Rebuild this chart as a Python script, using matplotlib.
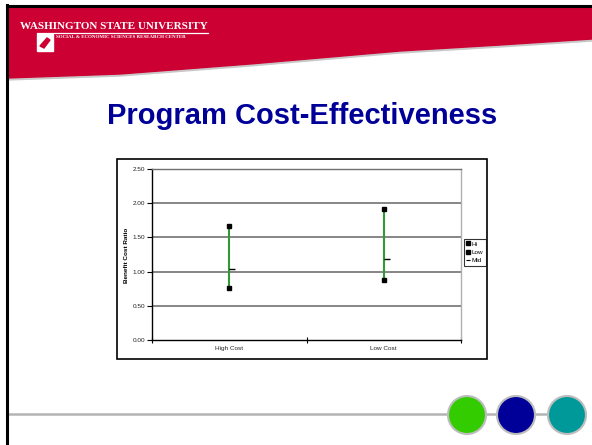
import matplotlib
matplotlib.use("Agg")
import matplotlib.pyplot as plt
from matplotlib.patches import Rectangle, Circle, Polygon
from matplotlib.lines import Line2D

# DATA
categories = ["High Cost", "Low Cost"]
hi = [1.66, 1.91]
low = [0.76, 0.87]
mid = [1.04, 1.19]
y_ticks = [0.0, 0.5, 1.0, 1.5, 2.0, 2.5]
y_labels = ["0.00", "0.50", "1.00", "1.50", "2.00", "2.50"]

W, H = 592, 445
plt.rcParams["font.family"] = ["Liberation Sans", "DejaVu Sans"]


def fig_box(x0, y0, x1, y1):
    # pixel box (top-left origin) -> figure fraction rect
    return [x0 / W, 1 - y1 / H, (x1 - x0) / W, (y1 - y0) / H]


def main():
    fig = plt.figure(figsize=(W / 100, H / 100), dpi=100)

    # slide background in pixel coordinates
    bg = fig.add_axes([0, 0, 1, 1], zorder=0)
    bg.set_xlim(0, W)
    bg.set_ylim(H, 0)
    bg.axis("off")

    # red header band with slanted lower edge
    edge = [(W, 39), (500, 45), (400, 51), (250, 64), (120, 74), (7, 78)]
    band = [(7, 6), (W, 6)] + edge
    bg.add_patch(Polygon([(x, y + 2) for x, y in edge] + [(7, 6), (W, 6)], closed=True,
                         color="#c8c8c8", zorder=1))
    bg.add_patch(Polygon(band, closed=True, color="#cc0033", zorder=2))
    bg.plot([7, W], [6, 6], color="black", lw=2.2, zorder=3)
    bg.plot([7, 7], [5, 443], color="black", lw=2.2, zorder=3)

    bg.text(20, 29, "WASHINGTON STATE UNIVERSITY", color="white", fontsize=8,
            fontweight="bold", family="Liberation Serif", va="baseline", zorder=4)
    bg.plot([37, 208], [32.5, 32.5], color="white", lw=0.9, zorder=4)
    bg.text(56, 38.5, "SOCIAL & ECONOMIC SCIENCES RESEARCH CENTER", color="white",
            fontsize=3.6, fontweight="bold", family="Liberation Serif", va="baseline", zorder=4)
    bg.add_patch(Rectangle((37, 34), 16, 17, color="white", zorder=4))
    bg.add_patch(Polygon([(40, 46), (47, 38), (50, 40), (44, 48)], closed=True,
                         color="#cc0033", zorder=5))

    # title
    bg.text(302, 124, "Program Cost-Effectiveness", color="#000099", fontsize=21,
            fontweight="bold", ha="center", va="baseline", zorder=4)

    # bottom line and circles
    bg.plot([8, 548], [414, 414], color="#b4b4b4", lw=1.8, zorder=2)
    for cx, col in [(467, "#33cc00"), (516, "#000099"), (567, "#009999")]:
        bg.add_patch(Circle((cx, 415), 19, facecolor=col, edgecolor="#bdbdbd",
                            lw=1.5, zorder=3))

    # chart frame
    bg.add_patch(Rectangle((117, 159), 370, 200, fill=False, edgecolor="black",
                           lw=1.2, zorder=3))

    # chart
    ax = fig.add_axes(fig_box(152, 169, 461, 340), zorder=1)
    x = [0.5 + i for i in range(len(categories))]
    ax.vlines(x, low, hi, color="#339933", lw=1.5, zorder=3)
    ax.plot(x, hi, "s", color="black", ms=2.8, zorder=4)
    ax.plot(x, low, "s", color="black", ms=2.8, zorder=4)
    ax.plot(x, mid, marker=1, ls="none", color="black", ms=4, mew=1.0, zorder=4)

    ax.set_xlim(0, 2)
    ax.set_ylim(0, 2.5)
    ax.set_yticks(y_ticks)
    ax.set_yticklabels(y_labels)
    ax.set_xticks([0, 1, 2])
    ax.set_xticklabels([])
    ax.set_xticks(x, minor=True)
    ax.set_xticklabels(categories, minor=True)
    ax.tick_params(axis="x", which="major", direction="inout", length=4, width=0.8)
    ax.tick_params(axis="x", which="minor", length=0, pad=4, labelsize=4.6,
                   labelcolor="#222222")
    ax.tick_params(axis="y", direction="out", length=3.5, width=0.8, pad=1.5,
                   labelsize=4.6, labelcolor="#222222")
    for v in y_ticks[1:-1]:
        ax.axhline(v, color="#666666", lw=1.1, zorder=1)
    ax.spines["left"].set_color("black")
    ax.spines["bottom"].set_color("black")
    ax.spines["top"].set_color("#6e6e6e")
    ax.spines["right"].set_color("#b0b0b0")
    for s in ax.spines.values():
        s.set_linewidth(1.0)

    fig.text(127 / W, 1 - 255 / H, "Benefit Cost Ratio", rotation=90, fontsize=4.6,
             fontweight="bold", ha="center", va="center")

    handles = [
        Line2D([], [], marker="s", ls="none", color="black", ms=2.5),
        Line2D([], [], marker="s", ls="none", color="black", ms=2.5),
        Line2D([], [], marker="_", ls="none", color="black", ms=3, mew=0.8),
    ]
    leg = fig.legend(handles, ["Hi", "Low", "Mid"], loc="upper left",
                     bbox_to_anchor=(464 / W, 1 - 239 / H), fontsize=4.6,
                     frameon=True, fancybox=False, edgecolor="black",
                     handlelength=0.6, handletextpad=0.3, borderpad=0.35,
                     labelspacing=0.45, borderaxespad=0)
    leg.get_frame().set_linewidth(0.8)

    fig.savefig("out.png", dpi=100, facecolor="white")


if __name__ == "__main__":
    main()
